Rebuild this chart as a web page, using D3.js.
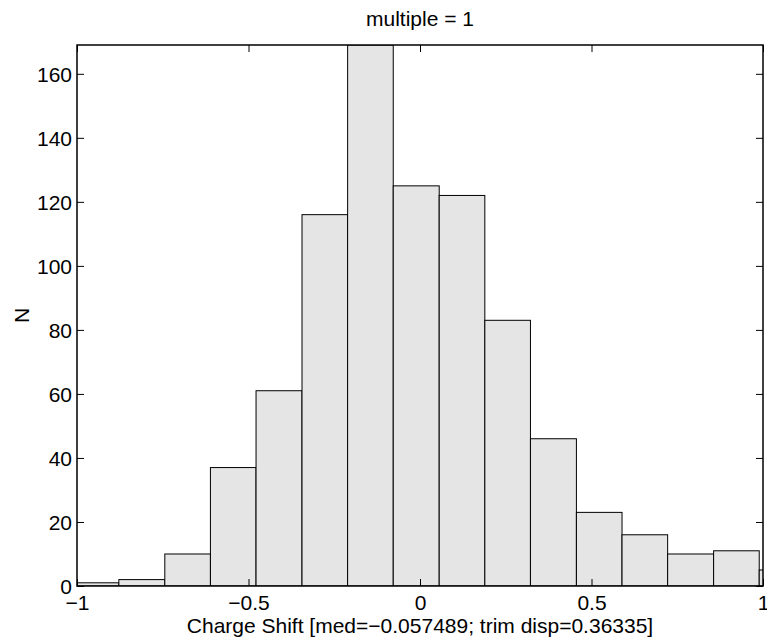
<!DOCTYPE html>
<html>
<head>
<meta charset="utf-8">
<script src="https://cdn.jsdelivr.net/npm/d3@7"></script>
<style>
  html, body { margin: 0; padding: 0; background: #fff; }
  svg text { font-family: "Liberation Sans", Arial, Helvetica, sans-serif; fill: #000; }
</style>
</head>
<body>
<svg id="chart" width="767" height="637"></svg>
<script>
// Histogram of charge shift: bin edges and counts per bin
const binEdges = [-1.011, -0.878, -0.744, -0.611, -0.478, -0.344, -0.211, -0.078,
                  0.056, 0.189, 0.322, 0.456, 0.589, 0.722, 0.856, 0.989, 1.122];
const binCounts = [1, 2, 10, 37, 61, 116, 169, 125, 122, 83, 46, 23, 16, 10, 11, 5];
const xTicks = [-1, -0.5, 0, 0.5, 1];
const xTickLabels = ["\u22121", "\u22120.5", "0", "0.5", "1"];
const yTicks = [0, 20, 40, 60, 80, 100, 120, 140, 160];
const titleText = "multiple = 1";
const xLabelText = "Charge Shift [med=\u22120.057489; trim disp=0.36335]";
const yLabelText = "N";

const W = 767, H = 637;
const margin = { top: 45, right: 4, bottom: 51, left: 77 };
const iw = W - margin.left - margin.right;
const ih = H - margin.top - margin.bottom;
const fontSize = 21;
const tickLen = 7;

const svg = d3.select("#chart");
const g = svg.append("g").attr("transform", `translate(${margin.left},${margin.top})`);

const x = d3.scaleLinear().domain([-1, 1]).range([0, iw]);
const y = d3.scaleLinear().domain([0, 169]).range([ih, 0]);

svg.append("defs").append("clipPath").attr("id", "plotClip")
  .append("rect").attr("x", 0).attr("y", 0).attr("width", iw).attr("height", ih);

const bins = binCounts.map((c, i) => ({ x0: binEdges[i], x1: binEdges[i + 1], n: c }));

g.append("g").attr("clip-path", "url(#plotClip)")
  .selectAll("rect").data(bins).join("rect")
  .attr("x", d => x(d.x0))
  .attr("y", d => y(d.n))
  .attr("width", d => x(d.x1) - x(d.x0))
  .attr("height", d => y(0) - y(d.n))
  .attr("fill", "#e5e5e5")
  .attr("stroke", "#000")
  .attr("stroke-width", 1);

// Axes: ticks point inward, mirrored on top and right
const axisStyle = sel => {
  sel.select(".domain").remove();
  sel.selectAll(".tick line").attr("stroke", "#000").attr("stroke-width", 1);
};

const xBottom = g.append("g").attr("transform", `translate(0,${ih})`)
  .call(d3.axisBottom(x).tickValues(xTicks).tickSizeInner(-tickLen).tickSizeOuter(0)
    .tickFormat((d, i) => xTickLabels[i]).tickPadding(0));
axisStyle(xBottom);
xBottom.selectAll(".tick text")
  .attr("y", 24).attr("dy", null)
  .style("font-size", fontSize + "px");

const xTop = g.append("g")
  .call(d3.axisTop(x).tickValues(xTicks).tickSizeInner(-tickLen).tickSizeOuter(0).tickFormat(""));
axisStyle(xTop);

const yLeft = g.append("g")
  .call(d3.axisLeft(y).tickValues(yTicks).tickSizeInner(-tickLen).tickSizeOuter(0).tickFormat(d3.format("d")));
axisStyle(yLeft);
yLeft.selectAll(".tick text")
  .attr("x", -5).attr("dy", "0.36em")
  .style("font-size", fontSize + "px");

const yRight = g.append("g").attr("transform", `translate(${iw},0)`)
  .call(d3.axisRight(y).tickValues(yTicks).tickSizeInner(-tickLen).tickSizeOuter(0).tickFormat(""));
axisStyle(yRight);

// Box around the plot area
g.append("rect")
  .attr("x", 0).attr("y", 0).attr("width", iw).attr("height", ih)
  .attr("fill", "none").attr("stroke", "#000").attr("stroke-width", 1.5);

// Title and axis labels
svg.append("text")
  .attr("x", margin.left + iw / 2).attr("y", 26)
  .attr("text-anchor", "middle").style("font-size", fontSize + "px")
  .text(titleText);

svg.append("text")
  .attr("x", margin.left + iw / 2).attr("y", 633)
  .attr("text-anchor", "middle").style("font-size", fontSize + "px")
  .text(xLabelText);

svg.append("text")
  .attr("transform", `translate(29,${margin.top + ih / 2}) rotate(-90)`)
  .attr("text-anchor", "middle").style("font-size", fontSize + "px")
  .text(yLabelText);
</script>
</body>
</html>
